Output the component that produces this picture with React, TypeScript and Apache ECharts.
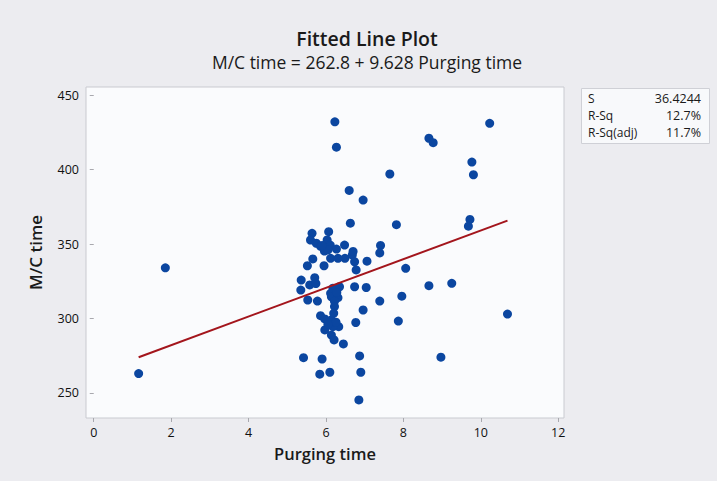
import React, { useEffect, useRef } from "react";
import * as echarts from "echarts";

const purgingTime = [
  1.16, 1.85, 6.23, 6.27, 7.65, 6.6, 6.96, 6.63, 7.82, 10.23,
  8.66, 8.77, 9.77, 9.81, 9.72, 9.68, 7.41, 7.39, 8.06, 8.66,
  9.25, 7.39, 7.96, 10.69, 7.87, 8.97, 7.06, 6.96, 6.77, 7.04,
  5.42, 5.9, 6.87, 5.84, 6.1, 6.9, 6.85, 5.64, 6.07, 5.6,
  5.75, 6.03, 5.86, 5.96, 6.11, 6.27, 6.48, 5.66, 5.52, 5.95,
  6.12, 6.31, 6.49, 6.68, 6.74, 6.78, 5.36, 5.71, 5.58, 5.35,
  6.18, 6.35, 6.74, 6.12, 6.14, 6.31, 6.22, 6.22, 6.28, 5.53,
  5.78, 5.86, 5.97, 6.14, 6.33, 6.18, 5.97, 6.14, 6.21, 6.45,
  6.26, 5.74, 6.05, 6.2, 6.7, 6.05, 5.9,
];
const mcTime = [
  263, 334, 432, 415, 397, 386, 379.5, 364, 363, 431,
  421, 418, 405, 396.5, 366.5, 362, 349, 344, 333.7, 322,
  323.6, 311.7, 315, 303, 298.3, 274, 338.5, 305.7, 297.3, 320.8,
  273.7, 272.8, 274.9, 262.6, 263.9, 263.9, 245.3, 357.2, 358.3, 352.7,
  350.5, 352.7, 348.5, 345.3, 349.3, 346.6, 349.3, 340, 335.4, 335.4,
  340.4, 340.4, 340.4, 342.6, 338.1, 332.6, 325.8, 327.4, 322.5, 319.1,
  320.3, 321.3, 321.3, 316.9, 314.6, 314, 311.5, 308, 317.5, 312.4,
  311.7, 301.9, 299.7, 299, 294.5, 294.5, 292.3, 288.9, 285.6, 282.9,
  297.5, 323.5, 346, 303.5, 345, 296, 349,
];

const intercept = 262.8;
const slope = 9.628;

const xTicks = [0, 2, 4, 6, 8, 10, 12];
const yTicks = [250, 300, 350, 400, 450];

const statLabels = ["S", "R-Sq", "R-Sq(adj)"];
const statValues = ["36.4244", "12.7%", "11.7%"];

const titleText = "Fitted Line Plot";
const subtitleText = "M/C time = 262.8 + 9.628 Purging time";
const xName = "Purging time";
const yName = "M/C time";

const FONT = "'Open Sans', 'Noto Sans', sans-serif";

export default function App() {
  const ref = useRef<HTMLDivElement>(null);

  useEffect(() => {
    if (!ref.current) return;
    const chart = echarts.init(ref.current, undefined, { renderer: "svg" });

    const points = purgingTime.map((x, i) => [x, mcTime[i]]);
    const minX = Math.min(...purgingTime);
    const maxX = Math.max(...purgingTime);
    const fitLine = [
      [minX, intercept + slope * minX],
      [maxX, intercept + slope * maxX],
    ];

    const statGraphics: any[] = [
      {
        type: "rect",
        shape: { x: 581.5, y: 88.5, width: 128, height: 55 },
        style: { fill: "#f8f9fb", stroke: "#cfd0d6", lineWidth: 1 },
      },
    ];
    statLabels.forEach((lab, i) => {
      const y = 98 + i * 17;
      statGraphics.push({
        type: "text",
        x: 588,
        y,
        style: {
          text: lab,
          fontFamily: FONT,
          fontSize: 12,
          fill: "#1a1a1a",
          textAlign: "left",
          textVerticalAlign: "middle",
        },
      });
      statGraphics.push({
        type: "text",
        x: 701,
        y,
        style: {
          text: statValues[i],
          fontFamily: FONT,
          fontSize: 12.5,
          fill: "#1a1a1a",
          textAlign: "right",
          textVerticalAlign: "middle",
        },
      });
    });

    chart.setOption({
      animation: false,
      backgroundColor: "#ececf0",
      textStyle: { fontFamily: FONT },
      grid: {
        left: 86,
        right: 153,
        top: 87,
        bottom: 63,
        show: true,
        backgroundColor: "#fafbfd",
        borderColor: "#c9cad0",
        borderWidth: 1,
      },
      xAxis: {
        type: "value",
        min: -0.2,
        max: 12.15,
        name: xName,
        nameLocation: "middle",
        nameGap: 27,
        nameTextStyle: { fontFamily: FONT, fontSize: 16.5, fontWeight: 600, color: "#1a1a1a" },
        splitLine: { show: false },
        axisLine: { show: false },
        axisTick: {
          show: true,
          customValues: xTicks,
          length: 4,
          lineStyle: { color: "#a8a8ae" },
        },
        axisLabel: {
          customValues: xTicks,
          fontFamily: FONT,
          fontSize: 12.5,
          fontWeight: 500,
          color: "#111",
          margin: 8,
        },
      },
      yAxis: {
        type: "value",
        min: 233.2,
        max: 455.4,
        name: yName,
        nameLocation: "middle",
        nameGap: 42,
        nameTextStyle: { fontFamily: FONT, fontSize: 17, fontWeight: 600, color: "#1a1a1a" },
        splitLine: { show: false },
        axisLine: { show: false },
        axisTick: {
          show: true,
          customValues: yTicks,
          length: 4,
          lineStyle: { color: "#a8a8ae" },
        },
        axisLabel: {
          customValues: yTicks,
          fontFamily: FONT,
          fontSize: 12.5,
          fontWeight: 500,
          color: "#111",
          margin: 7,
        },
      },
      series: [
        {
          type: "line",
          data: fitLine,
          showSymbol: false,
          symbol: "none",
          lineStyle: { color: "#a3151c", width: 2 },
          z: 3,
        },
        {
          type: "scatter",
          data: points,
          symbolSize: 9,
          itemStyle: { color: "#0b46a0", opacity: 1 },
          z: 2,
        },
      ],
      graphic: [
        {
          type: "text",
          x: 367,
          y: 38,
          style: {
            text: titleText,
            fontFamily: FONT,
            fontSize: 19.5,
            fontWeight: 600,
            fill: "#1a1a1a",
            textAlign: "center",
            textVerticalAlign: "middle",
          },
        },
        {
          type: "text",
          x: 367,
          y: 62,
          style: {
            text: subtitleText,
            fontFamily: FONT,
            fontSize: 17.5,
            fontWeight: 500,
            fill: "#1a1a1a",
            textAlign: "center",
            textVerticalAlign: "middle",
          },
        },
        ...statGraphics,
      ],
    });

    return () => chart.dispose();
  }, []);

  return (
    <div
      ref={ref}
      style={{ position: "fixed", left: 0, top: 0, width: 717, height: 481 }}
    />
  );
}
